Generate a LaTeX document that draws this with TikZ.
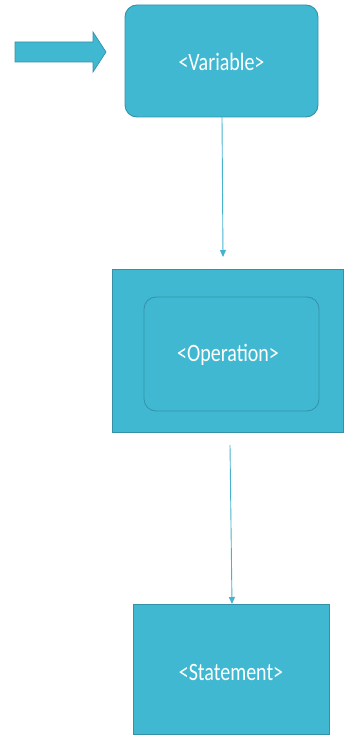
\documentclass[tikz,border=0pt]{standalone}
\usepackage{fontspec}
\setmainfont{Carlito}
\usetikzlibrary{arrows.meta,shapes.arrows}
\definecolor{boxfill}{RGB}{64,184,210}
\definecolor{boxedge}{RGB}{52,145,168}
\definecolor{linkcol}{RGB}{70,178,206}
\tikzset{
  flowbox/.style={fill=boxfill, draw=boxedge, line width=0.9pt},
  roundbox/.style={flowbox, rounded corners=12pt},
  label/.style={text=white, font=\fontsize{25}{30}\selectfont, xscale=0.8, transform shape},
  link/.style={draw=linkcol, line width=0.9pt, -{Triangle[length=7pt,width=6pt]}}
}
\begin{document}
\begin{tikzpicture}[x=1pt,y=-1pt]
\useasboundingbox (0,0) rectangle (344,735);
% entry block arrow
\draw[flowbox, line width=0.7pt] (15,42) -- (93,42) -- (93,32) -- (106,52) -- (93,72) -- (93,62) -- (15,62) -- cycle;
% variable box
\draw[roundbox] (125,5) rectangle (318,117);
\node[label] (var) at (221.5,62) {<Variable>};
\coordinate (varbot) at (222,117);
% operation frame with inner rounded box
\draw[flowbox] (112,269) rectangle (343.5,432);
\draw[fill=boxfill, draw=boxedge, line width=0.8pt, rounded corners=12pt] (144,297) rectangle (319,411);
\node[label] (op) at (228,355) {<Operation>};
\coordinate (optop) at (223,257);
\coordinate (opout) at (230,445);
% statement box
\draw[flowbox] (133,604) rectangle (329,734);
\node[label] (st) at (231,672) {<Statement>};
\coordinate (sttop) at (232,604);
% connectors
\draw[link] (varbot) -- (optop);
\draw[link] (opout) -- (sttop);
\end{tikzpicture}
\end{document}
